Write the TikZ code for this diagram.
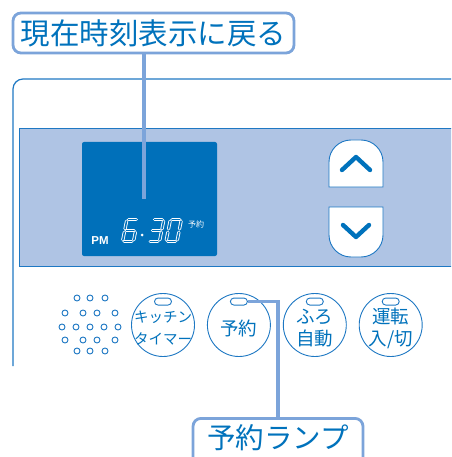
\documentclass[tikz,border=0pt]{standalone}
\usepackage{fontspec}
\newfontfamily\cjk{Noto Sans CJK JP}
\newfontfamily\latin{Liberation Sans}
\usetikzlibrary{positioning}

\definecolor{txtblue}{RGB}{0,114,188}
\definecolor{callline}{RGB}{124,164,218}
\definecolor{dispblue}{RGB}{0,112,186}
\definecolor{stripfill}{RGB}{175,196,228}
\definecolor{btnline}{RGB}{30,120,195}

\begin{document}
\begin{tikzpicture}[x=1pt,y=-1pt,
        callout/.style={draw=callline,line width=2.8pt,rounded corners=8pt,fill=white,
            text=txtblue,inner sep=0pt},
        lead/.style={draw=callline,line width=3.2pt},
        knob/.style={circle,draw=btnline,line width=0.9pt,fill=white,minimum size=63pt,inner sep=0pt},
        knobtext/.style={text=txtblue,align=center,inner sep=0pt},
        lamp/.style={draw=btnline,line width=0.9pt,rounded corners=3.5pt,minimum width=17pt,
            minimum height=7pt,inner sep=0pt},
        hole/.style={circle,draw=btnline,line width=0.9pt,minimum size=6pt,inner sep=0pt},
        seg/.style={draw=white,double=dispblue,line width=0.9pt,double distance=1.5pt,
            line cap=round,shorten <=1.7pt,shorten >=1.7pt},
        chevron/.style={draw=txtblue,line width=4.4pt,line cap=round,line join=round}
    ]
    \clip (0,0) rectangle (451,457);

    % panel and display strip
    \draw[btnline,line width=1.2pt,rounded corners=10pt] (13,366) -- (13,79) -- (470,79);
    \draw[btnline,line width=0.9pt,fill=stripfill] (19,128) rectangle (470,266);
    \node[fill=dispblue,rounded corners=2pt,minimum width=135pt,minimum height=114pt,inner sep=0pt]
        (disp) at (149.5,199) {};

    % 6:30
    \begin{scope}[shift={(122.5,241.5)},xslant=0.2]
        \foreach \ax/\ay/\bx/\by in {0/-22/11/-22,0/-22/0/-11,0/-11/11/-11,0/-11/0/0,0/0/11/0,11/-11/11/0}
            \draw[seg] (\ax,\ay) -- (\bx,\by);
    \end{scope}
    \begin{scope}[shift={(148.5,241.5)},xslant=0.2]
        \foreach \ax/\ay/\bx/\by in {0/-22/11/-22,11/-22/11/-11,0/-11/11/-11,11/-11/11/0,0/0/11/0}
            \draw[seg] (\ax,\ay) -- (\bx,\by);
    \end{scope}
    \begin{scope}[shift={(166,241.5)},xslant=0.2]
        \foreach \ax/\ay/\bx/\by in {0/-22/11/-22,11/-22/11/-11,11/-11/11/0,0/0/11/0,0/-11/0/0,0/-22/0/-11}
            \draw[seg] (\ax,\ay) -- (\bx,\by);
    \end{scope}
    \fill[white] (142,235) circle[radius=1.5pt];
    \node[text=white,font=\latin\bfseries\fontsize{11.5}{11.5}\selectfont,inner sep=0pt] (pm) at (100,241) {PM};
    \node[text=white,font=\cjk\fontsize{8}{8}\selectfont,inner sep=0pt] (yoyakusmall) at (196,224) {予約};

    % up / down keys
    \draw[btnline,line width=0.9pt,fill=white] (329,187) -- (329,162)
        arc[start angle=180,end angle=90,radius=22pt] -- (361,140)
        arc[start angle=90,end angle=0,radius=22pt] -- (383,187) -- cycle;
    \draw[btnline,line width=0.9pt,fill=white] (329,207) -- (383,207) -- (383,235)
        arc[start angle=0,end angle=-90,radius=22pt] -- (351,257)
        arc[start angle=270,end angle=180,radius=22pt] -- cycle;
    \draw[chevron] (342,170) -- (356,157) -- (370,170);
    \draw[chevron] (343,225) -- (356,237) -- (369,225);

    % speaker holes
    \foreach \x/\y [count=\i] in {77/298,90/298,105/298,65/313,83/313,97/313,115/313,
            62/327,76/327,90/327,104/327,118/327,65/340,83/340,97/340,115/340,77/351,90/351,105/351}
        \node[hole] (hole\i) at (\x,\y) {};

    % buttons
    \node[knob] (k1) at (163,325) {};
    \node[knob] (k2) [right=12pt of k1] {};
    \node[knob] (k3) [right=12pt of k2] {};
    \node[knob] (k4) [right=12pt of k3] {};
    \foreach \k in {1,...,4}
        \node[lamp] (l\k) at ([yshift=-8.5pt]k\k.north) {};
    \node[knobtext,font=\cjk\fontsize{14.5}{22}\selectfont] (t1) at ([yshift=-3pt]k1.center) {キッチン\\タイマー};
    \node[knobtext,font=\cjk\fontsize{18.5}{22}\selectfont] (t2) at ([yshift=-3pt]k2.center) {予約};
    \node[knobtext,font=\cjk\fontsize{18.5}{22}\selectfont] (t3) at ([yshift=-3pt]k3.center) {ふろ\\自動};
    \node[knobtext,font=\cjk\fontsize{18.5}{22}\selectfont] (t4) at ([yshift=-3pt]k4.center) {運転\\入/切};

    % callouts
    \node[callout,font=\cjk\fontsize{29.5}{29.5}\selectfont,minimum width=281pt,minimum height=40pt]
        (current) at (153.5,33) {現在時刻表示に戻る};
    \coordinate (tip) at ([xshift=-5.5pt]disp.center);
    \draw[lead] (tip |- current.south) -- (tip);

    \node[callout,font=\cjk\fontsize{28.5}{28.5}\selectfont,minimum width=170pt,text height=30pt,
        text depth=22pt,anchor=north] (lamplabel) at (278,417) {予約ランプ};
    \draw[lead] (l2.east) -- (l2.east -| lamplabel.north) -- (lamplabel.north);
\end{tikzpicture}
\end{document}
